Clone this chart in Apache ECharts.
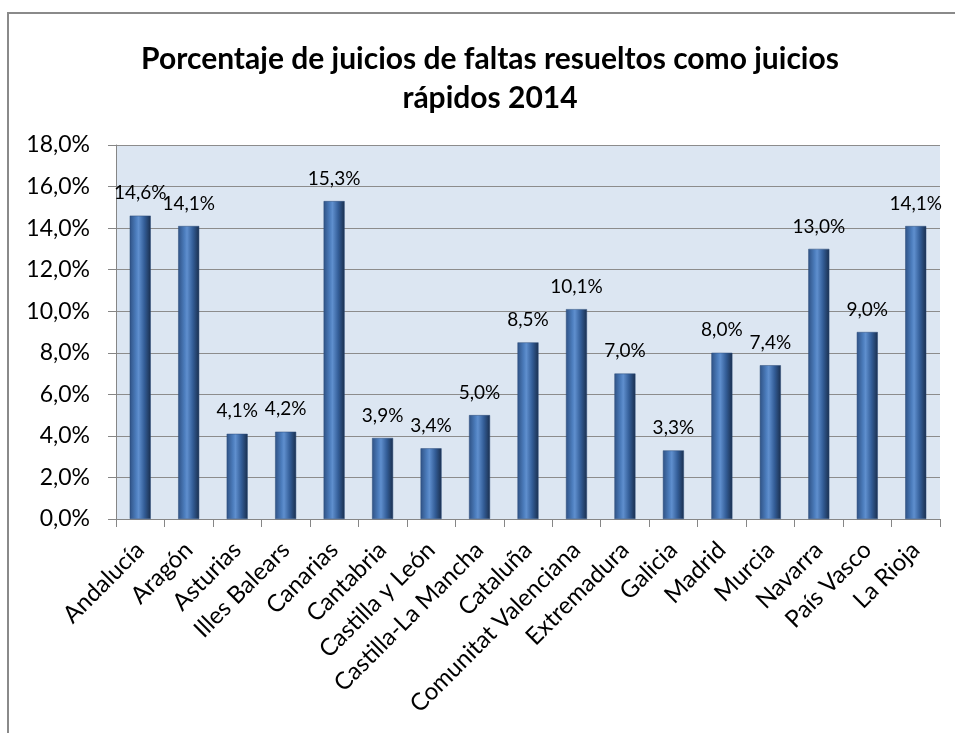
<!DOCTYPE html>
<html><head><meta charset="utf-8">
<script src="https://cdn.jsdelivr.net/npm/echarts@6/dist/echarts.min.js"></script>
<style>html,body{margin:0;padding:0;background:#fff}#c{width:955px;height:733px}</style>
</head><body><div id="c"></div>
<script>
const categories = ["Andalucía","Aragón","Asturias","Illes Balears","Canarias","Cantabria","Castilla y León","Castilla-La Mancha","Cataluña","Comunitat Valenciana","Extremadura","Galicia","Madrid","Murcia","Navarra","País Vasco","La Rioja"];
const values = [14.6,14.1,4.1,4.2,15.3,3.9,3.4,5.0,8.5,10.1,7.0,3.3,8.0,7.4,13.0,9.0,14.1];
const titleText = "Porcentaje de juicios de faltas resueltos como juicios\nrápidos 2014";
const fmt = v => v.toFixed(1).replace('.', ',') + '%';
const FONT = "Lato, sans-serif";
const chart = echarts.init(document.getElementById('c'), null, {renderer:'canvas'});
chart.setOption({
  animation:false,
  backgroundColor:'#fff',
  title:{text:titleText,left:485,textAlign:'center',top:35,
    textStyle:{fontFamily:FONT,fontWeight:'bold',fontSize:30,color:'#000',lineHeight:39}},
  graphic:[{type:'rect',shape:{x:8,y:13,width:1100,height:1100},style:{fill:'none',stroke:'#8a8a8a',lineWidth:2},silent:true}],
  grid:{left:116,right:15,top:145,bottom:214,show:true,backgroundColor:'#dce6f2',borderWidth:0},
  xAxis:{type:'category',data:categories,boundaryGap:true,
    axisLine:{show:true,lineStyle:{color:'#868686',width:1}},
    axisTick:{show:true,alignWithLabel:false,length:8,lineStyle:{color:'#868686'}},
    axisLabel:{rotate:45,interval:0,fontFamily:FONT,fontSize:24,color:'#000',margin:27}},
  yAxis:{type:'value',min:0,max:18,interval:2,
    axisLine:{show:true,lineStyle:{color:'#868686',width:1}},
    axisTick:{show:true,length:8,lineStyle:{color:'#868686'}},
    splitLine:{show:true,lineStyle:{color:'#8c8c8c',width:1}},
    axisLabel:{fontFamily:FONT,fontSize:23,color:'#000',margin:26,formatter:v=>v.toFixed(1).replace('.',',')+'%'}},
  series:[{type:'bar',data:values,barWidth:21,
    itemStyle:{color:new echarts.graphic.LinearGradient(0,0,1,0,[
      {offset:0,color:'#2f5285'},{offset:0.3,color:'#4c7dbd'},{offset:0.42,color:'#5f8fce'},
      {offset:0.7,color:'#335d97'},{offset:1,color:'#1a2f4e'}]),
      borderColor:'#2a4a78',borderWidth:0.5},
    label:{show:true,position:'top',distance:13,fontFamily:FONT,fontSize:19,color:'#000',formatter:p=>fmt(p.value)}}]
});
</script></body></html>
